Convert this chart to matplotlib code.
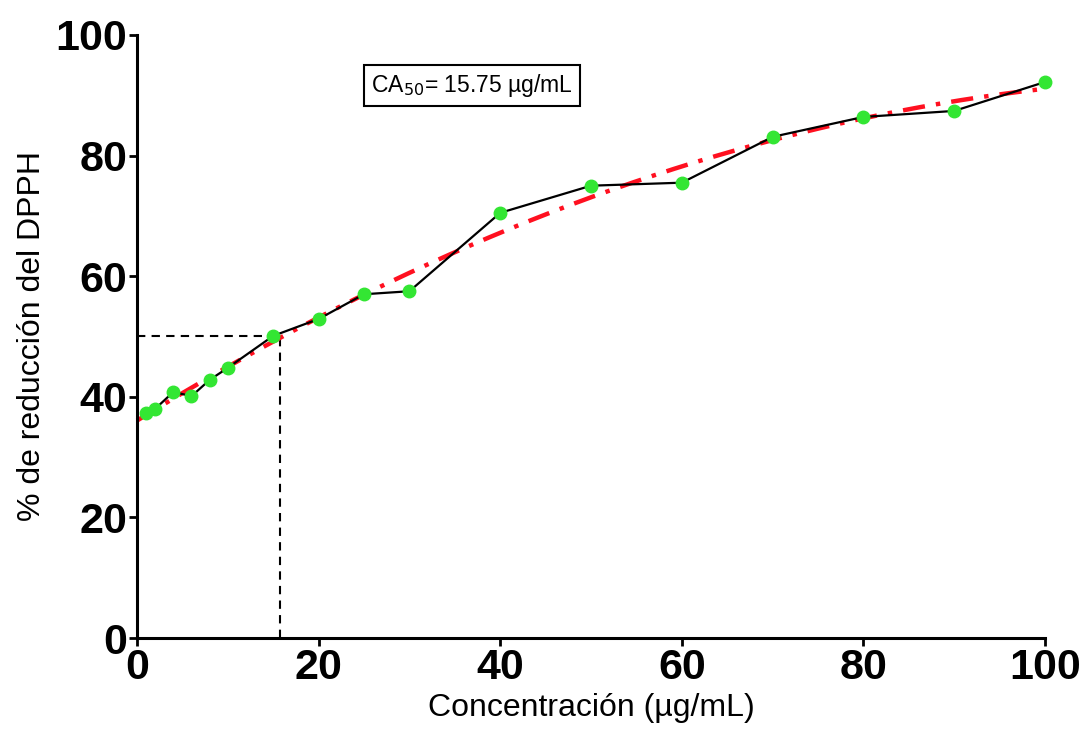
import numpy as np
import matplotlib
matplotlib.use("Agg")
import matplotlib.pyplot as plt

plt.rcParams['font.family'] = ['Liberation Sans', 'DejaVu Sans']

# concentration (ug/mL) and % DPPH reduction
conc = [1, 2, 4, 6, 8, 10, 15, 20, 25, 30, 40, 50, 60, 70, 80, 90, 100]
reduction = [37.3, 38.0, 40.8, 40.1, 42.8, 44.8, 50.1, 52.9, 57.0, 57.5,
             70.5, 75.0, 75.5, 83.1, 86.4, 87.4, 92.2]
ca50 = 15.75
x_ticks = [0, 20, 40, 60, 80, 100]
y_ticks = [0, 20, 40, 60, 80, 100]

fig = plt.figure(figsize=(10.83, 7.43), dpi=100)
ax = fig.add_axes([0.1265, 0.1413, 0.8385, 0.8117])

# polynomial trend of the measured points
coeffs = np.polyfit(conc, reduction, 2)
xs = np.linspace(0, 100, 400)
ax.plot(xs, np.polyval(coeffs, xs), color='#ff1020', lw=3.2,
        ls=(0, (5, 2.5, 1, 2.5)), zorder=2, clip_on=False)

ax.plot(conc, reduction, color='black', lw=1.6, zorder=3, clip_on=False)
ax.plot(conc, reduction, 'o', color='#33e633', ms=9, mec='#33e633', zorder=4, clip_on=False)

# CA50 guide lines
ax.plot([0, ca50], [50, 50], color='black', lw=1.5, ls=(0, (4, 3)), zorder=1)
ax.plot([ca50, ca50], [0, 50], color='black', lw=1.5, ls=(0, (4, 3)), zorder=1)

ax.text(36.9, 91.6, 'CA$_{50}$= %.2f µg/mL' % ca50, fontsize=16.5, ha='center', va='center',
        bbox=dict(boxstyle='square,pad=0.3', fc='white', ec='black', lw=1.5))

ax.set_xlim(0, 100)
ax.set_ylim(0, 100)
ax.set_xticks(x_ticks)
ax.set_yticks(y_ticks)
for lab in ax.get_xticklabels() + ax.get_yticklabels():
    lab.set_fontweight('bold')
    lab.set_fontsize(31)
ax.tick_params(width=2, length=6, color='black', pad=1)
for s in ['top', 'right']:
    ax.spines[s].set_visible(False)
for s in ['left', 'bottom']:
    ax.spines[s].set_linewidth(2.2)

ax.set_xlabel('Concentración (µg/mL)', fontsize=23, labelpad=4)
ax.set_ylabel('% de reducción del DPPH', fontsize=23, labelpad=6)

fig.savefig('out.png', dpi=100)
